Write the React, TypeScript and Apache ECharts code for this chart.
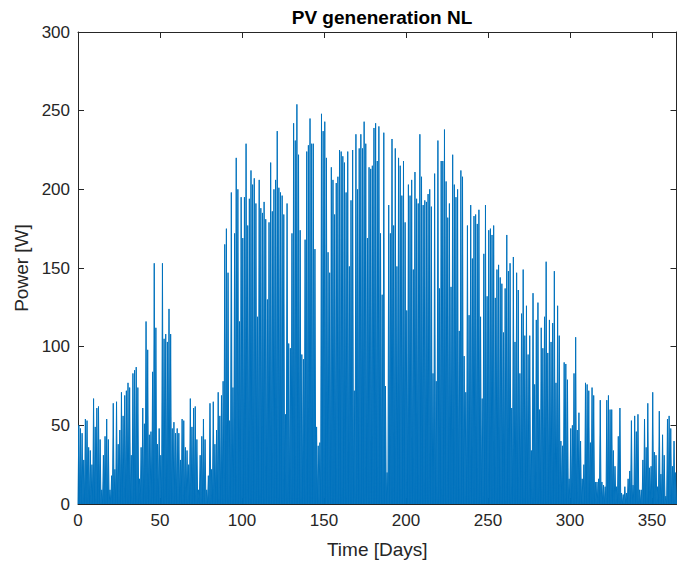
import React, { useEffect, useRef } from "react";
import * as echarts from "echarts";

// Daily peak PV power [W] (one value per day)
const peaksJanMar: number[] = [
  50, 48, 45, 28, 54, 53, 36, 34, 25, 67,
  49, 61, 62, 41, 9, 31, 43, 54, 41, 9,
  18, 64, 22, 65, 38, 47, 71, 56, 69, 72,
  77, 74, 31, 83, 85, 87, 74, 16, 36, 61,
  51, 116, 98, 44, 46, 84, 153, 112, 38, 48,
  31, 153, 105, 108, 103, 124, 108, 48, 52, 45,
  48, 45, 28, 54, 53, 36, 34, 25, 67, 49,
  61, 62, 41, 9, 31, 43, 54, 41, 9, 18,
  64, 22, 65, 38, 47, 71, 56, 69, 78, 165,
];
const peaksAprJun: number[] = [
  175, 147, 53, 198, 74, 172, 220, 200, 116, 195,
  169, 195, 229, 177, 194, 212, 203, 207, 191, 119,
  206, 188, 185, 192, 181, 130, 179, 217, 186, 200,
  206, 237, 201, 198, 196, 184, 57, 191, 102, 99,
  172, 242, 231, 254, 222, 174, 95, 92, 168, 224,
  228, 245, 229, 229, 162, 49, 37, 39, 248, 237,
  243, 220, 160, 147, 214, 206, 184, 204, 208, 225,
  224, 221, 217, 198, 224, 151, 193, 225, 72, 235,
  200, 226, 235, 226, 243, 229, 169, 214, 213, 215,
];
const peaksJulSep: number[] = [
  239, 242, 218, 240, 172, 133, 236, 75, 20, 190,
  172, 232, 177, 226, 151, 220, 215, 196, 218, 179,
  123, 203, 196, 206, 149, 211, 194, 191, 235, 208,
  190, 193, 192, 197, 200, 189, 83, 210, 78, 231,
  137, 218, 218, 238, 205, 182, 191, 138, 222, 203,
  195, 200, 110, 212, 208, 94, 71, 177, 120, 190,
  156, 183, 184, 178, 187, 119, 67, 159, 190, 132,
  174, 175, 171, 177, 131, 149, 152, 144, 140, 109,
  137, 171, 148, 153, 61, 157, 103, 147, 136, 83,
];
const peaksOctDec: number[] = [
  121, 149, 107, 126, 95, 107, 34, 134, 76, 117,
  128, 60, 112, 99, 119, 154, 96, 117, 103, 115,
  148, 77, 126, 107, 40, 37, 90, 89, 79, 16,
  48, 50, 83, 106, 47, 58, 40, 16, 25, 77,
  76, 72, 39, 74, 69, 14, 14, 16, 66, 14,
  12, 11, 66, 69, 60, 60, 34, 24, 11, 43,
  61, 7, 6, 11, 7, 16, 21, 53, 12, 56,
  46, 57, 9, 9, 28, 54, 36, 64, 23, 24,
  71, 33, 31, 11, 59, 19, 44, 31, 5, 54,
  56, 48, 24, 40, 20,
];

const xTicks = [0, 50, 100, 150, 200, 250, 300, 350];
const yTicks = [0, 50, 100, 150, 200, 250, 300];

const titleText = "PV geneneration NL";
const xName = "Time [Days]";
const yName = "Power [W]";

export default function App() {
  const ref = useRef<HTMLDivElement>(null);
  useEffect(() => {
    if (!ref.current) return;
    const chart = echarts.init(ref.current, undefined, { renderer: "svg" });
    const peaks = [...peaksJanMar, ...peaksAprJun, ...peaksJulSep, ...peaksOctDec];
    const data: number[][] = [];
    peaks.forEach((v, d) => {
      data.push([d, 0]);
      data.push([d + 0.5, v]);
    });
    data.push([peaks.length, 0]);

    const font = "Liberation Sans, Arial, Helvetica, sans-serif";
    const axisColor = "#262626";
    const lineStyle = { color: axisColor, width: 1 };
    const xFmt = (v: number) => (xTicks.includes(v) ? String(v) : "");
    const yFmt = (v: number) => (yTicks.includes(v) ? String(v) : "");

    chart.setOption({
      animation: false,
      title: {
        text: titleText,
        left: 377,
        top: 3,
        textAlign: "center",
        textStyle: { fontFamily: font, fontWeight: "bold", fontSize: 19, color: "#000" },
      },
      grid: { left: 78, right: 18.5, top: 32, bottom: 61, containLabel: false },
      xAxis: [
        {
          type: "value",
          min: 0,
          max: 365,
          interval: 50,
          name: xName,
          nameLocation: "middle",
          nameGap: 36,
          nameTextStyle: { fontFamily: font, fontSize: 19, color: axisColor },
          axisLine: { show: true, onZero: false, lineStyle },
          axisTick: { show: true, inside: true, length: 6, lineStyle },
          axisLabel: { margin: 8, color: axisColor, fontSize: 17, fontFamily: font, formatter: xFmt },
          splitLine: { show: false },
        },
        {
          type: "value",
          position: "top",
          min: 0,
          max: 365,
          interval: 50,
          axisLine: { show: true, onZero: false, lineStyle },
          axisTick: { show: true, inside: true, length: 6, lineStyle },
          axisLabel: { show: false },
          splitLine: { show: false },
        },
      ],
      yAxis: [
        {
          type: "value",
          min: 0,
          max: 300,
          interval: 50,
          name: yName,
          nameLocation: "middle",
          nameGap: 44,
          nameTextStyle: { fontFamily: font, fontSize: 19, color: axisColor },
          axisLine: { show: true, onZero: false, lineStyle },
          axisTick: { show: true, inside: true, length: 6, lineStyle },
          axisLabel: { margin: 8, color: axisColor, fontSize: 17, fontFamily: font, formatter: yFmt },
          splitLine: { show: false },
        },
        {
          type: "value",
          position: "right",
          min: 0,
          max: 300,
          interval: 50,
          axisLine: { show: true, onZero: false, lineStyle },
          axisTick: { show: true, inside: true, length: 6, lineStyle },
          axisLabel: { show: false },
          splitLine: { show: false },
        },
      ],
      series: [
        {
          type: "line",
          xAxisIndex: 0,
          yAxisIndex: 0,
          data,
          symbol: "none",
          showSymbol: false,
          silent: true,
          lineStyle: { color: "#0072BD", width: 1 },
          areaStyle: { color: "#0072BD", opacity: 0.92 },
        },
      ],
    });
    return () => chart.dispose();
  }, []);
  return (
    <div
      ref={ref}
      style={{ position: "fixed", left: 0, top: 0, width: 695, height: 565, background: "#fff" }}
    />
  );
}
